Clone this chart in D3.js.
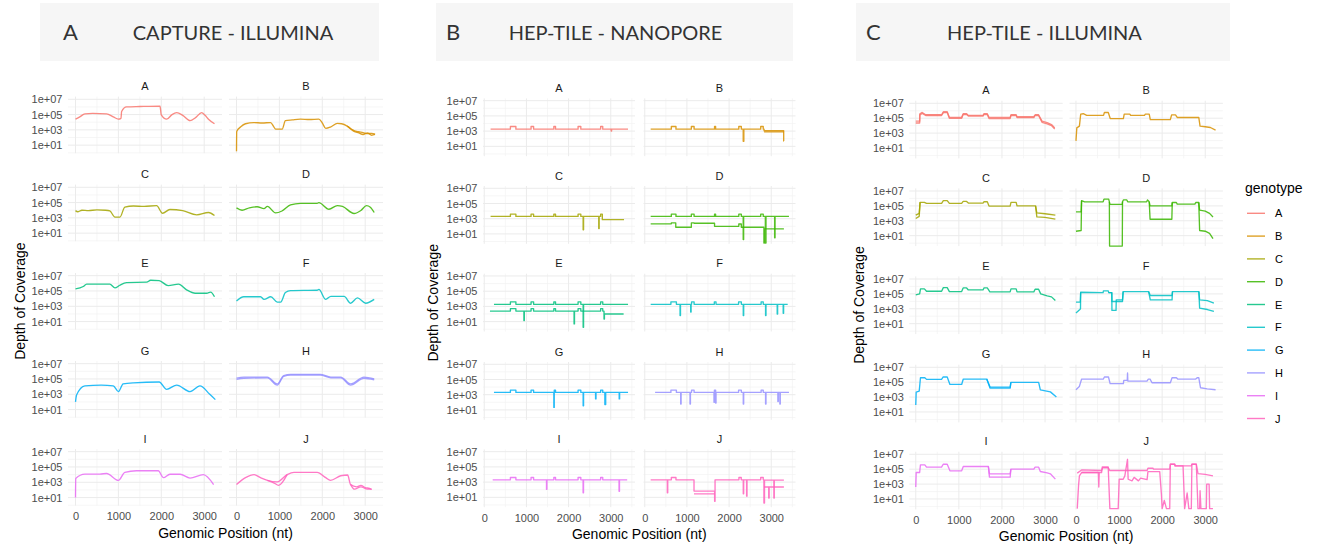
<!DOCTYPE html>
<html>
<head>
<meta charset="utf-8">
<title>Depth of Coverage by genotype</title>
<style>
  html, body { margin: 0; padding: 0; background: #fff; }
  svg text { font-family: "Liberation Sans", Arial, sans-serif; }
</style>
</head>
<body>
<svg id="svg" width="1317" height="548"></svg>
<script src="https://d3js.org/d3.v7.min.js"></script>
<script>
// facet / legend values
const genotypes = ["A", "B", "C", "D", "E", "F", "G", "H", "I", "J"]
const genotypeColors = ["#F8766D", "#D89000", "#A3A500", "#39B600", "#00BF7D",
                        "#00BFC4", "#00B0F6", "#9590FF", "#E76BF3", "#FF62BC"]
const panelLetters = ["A", "B", "C"]
const panelTitles = ["CAPTURE - ILLUMINA", "HEP-TILE - NANOPORE", "HEP-TILE - ILLUMINA"]
const yTickValues = [1e1, 1e3, 1e5, 1e7]
const yMinorValues = [1e0, 1e2, 1e4, 1e6]
const xTickValues = [0, 1000, 2000, 3000]
const xMinorValues = [500, 1500, 2500, 3500]

// each genotype: list of lines, each point = [genomic position (nt), log10 depth]
// A - capture / illumina
const captureA = [[[0,4.4],[100,4.7],[218,5.1],[400,5.15],[725,5.1],[880,4.7],[1000,4.4],[1060,4.5],[1075,5.4],[1190,6.0],[1500,6.05],[1970,6.1],[2000,4.95],[2125,4.4],[2250,5.0],[2360,5.25],[2500,4.9],[2670,4.2],[2800,4.6],[2940,5.25],[3020,4.9],[3100,4.4],[3240,3.8]]]
const captureB = [
  [[0,0.2],[5,2.8],[100,3.4],[210,3.8],[400,3.95],[600,3.9],[795,3.95],[870,3.4],[910,3.1],[1065,3.1],[1140,4.2],[1300,4.3],[1490,4.4],[1700,4.35],[1920,4.4],[2000,3.9],[2080,3.2],[2200,3.4],[2350,3.85],[2450,3.8],[2580,3.5],[2740,2.8],[2850,2.6],[2950,2.4],[3050,2.6],[3150,2.3],[3230,2.4]],
  [[2580,3.5],[2740,2.9],[2850,2.75],[2950,2.65],[3050,2.5],[3150,2.55],[3230,2.45]]
]
const captureC = [[[0,3.95],[50,3.8],[150,4.0],[300,3.95],[500,4.05],[700,4.0],[800,3.9],[920,3.1],[1035,3.1],[1150,4.4],[1350,4.55],[1600,4.5],[1890,4.6],[2030,3.6],[2200,4.1],[2500,3.95],[2825,3.4],[3100,3.7],[3240,3.3]]]
const captureD = [[[0,4.3],[130,4.0],[300,4.3],[480,4.45],[640,4.2],[720,4.5],[910,3.65],[1060,3.9],[1260,4.7],[1490,4.9],[1880,4.9],[1920,5.0],[2155,4.13],[2350,4.6],[2470,4.5],[2740,3.57],[2900,3.96],[3030,4.6],[3120,4.4],[3210,3.7]]]
const captureE = [[[0,5.27],[180,5.58],[260,5.9],[800,5.9],[920,5.4],[1030,5.75],[1190,6.1],[1660,6.15],[1750,6.4],[1950,6.35],[2160,5.7],[2400,5.9],[2590,5.15],[2790,4.7],[3060,4.7],[3150,4.85],[3240,4.25]]]
const captureF = [[[0,3.7],[170,4.25],[560,4.25],[640,3.9],[800,4.25],[950,3.55],[1030,3.55],[1140,4.8],[1260,5.05],[1880,5.1],[1920,5.2],[2080,3.9],[2200,4.3],[2510,4.3],[2660,3.4],[2820,4.1],[3010,3.4],[3210,3.9]]]
const captureG = [[[0,2.0],[25,2.9],[218,4.1],[600,4.2],[880,4.1],[1000,3.35],[1110,4.35],[1350,4.5],[1950,4.6],[2125,3.65],[2360,4.2],[2670,3.35],[2900,4.1],[3130,3.0],[3260,2.3]]]
const captureH = [
  [[0,5.1],[170,5.25],[720,5.25],[950,4.35],[1100,5.45],[1260,5.6],[1950,5.6],[2200,5.25],[2430,5.25],[2660,4.35],[2970,5.25],[3210,5.0]],
  [[0,4.95],[170,5.1],[720,5.15],[950,4.2],[1100,5.35],[1260,5.5],[1950,5.5],[2200,5.15],[2430,5.15],[2660,4.2],[2970,5.1],[3210,4.9]]
]
const captureI = [[[0,1.0],[5,3.5],[218,4.07],[570,4.07],[725,4.15],[1000,3.25],[1150,4.3],[1420,4.5],[1930,4.5],[2050,3.6],[2200,4.05],[2440,4.05],[2670,3.55],[2980,4.0],[3220,2.7]]]
const captureJ = [
  [[0,2.7],[210,3.6],[410,4.0],[560,3.6],[720,3.25],[950,3.05],[1180,4.0],[1340,4.3],[1880,4.3],[2080,3.6],[2190,3.25],[2430,3.85],[2590,3.95],[2660,2.7],[2800,2.4],[2900,2.6],[3000,2.3],[3100,2.2],[3150,2.05]],
  [[720,3.25],[880,2.9],[980,2.6],[1180,4.0]],
  [[2660,2.7],[2750,2.1],[2900,2.4],[3050,2.1],[3150,2.1]]
]

// B - hep-tile / nanopore (step profile: value holds until next position)
const nanoporeA = [[[150,3.26],[620,3.6],[750,3.26],[1110,3.6],[1170,3.26],[1650,3.6],[1690,3.26],[2225,3.6],[2290,3.26],[2760,3.6],[2810,3.26],[3010,3.0],[3020,3.26],[3410,3.26]]]
const nanoporeB = [
  [[140,3.26],[630,3.6],[740,3.26],[1105,3.6],[1170,3.26],[1655,3.6],[1680,3.26],[2230,3.6],[2290,3.26],[2335,1.65],[2350,3.26],[2750,3.6],[2810,3.26],[2830,3.05],[3295,1.7],[3300,1.7]],
  [[2830,2.9],[3300,2.9]]
]
const nanoporeC = [[[150,3.3],[620,3.6],[750,3.3],[1110,3.6],[1170,3.3],[1650,3.6],[1690,3.3],[2225,3.6],[2290,3.3],[2345,1.55],[2355,3.3],[2715,1.7],[2725,3.3],[2760,3.6],[2800,2.87],[3315,2.87]]]
const nanoporeD = [
  [[140,3.3],[630,3.6],[740,3.3],[1105,3.6],[1170,3.3],[1655,3.6],[1680,3.3],[2230,3.6],[2290,3.3],[2335,0.25],[2345,3.3],[2750,3.6],[2810,3.3],[2860,-0.2],[2875,3.3],[3080,0.5],[3090,3.3],[3420,3.3]],
  [[140,2.32],[630,2.45],[735,1.88],[1105,2.45],[1170,2.4],[1655,2.0],[2230,2.3],[2290,1.88],[2826,-0.2],[2836,1.66],[3300,1.66]]
]
const nanoporeE = [
  [[230,3.27],[620,3.6],[750,3.27],[1110,3.6],[1170,3.27],[1650,3.6],[1690,3.27],[2225,3.6],[2290,3.27],[2345,0.25],[2355,3.27],[2760,3.6],[2810,3.27],[3410,3.27]],
  [[135,2.38],[620,2.7],[750,2.38],[940,1.13],[950,2.38],[1110,2.7],[1170,2.38],[1650,2.7],[1690,2.38],[2130,0.7],[2140,2.38],[2225,2.7],[2290,2.38],[2760,2.7],[2810,2.38],[2840,1.35],[2850,2.0],[3305,2.0]]
]
const nanoporeF = [[[140,3.27],[620,3.6],[750,3.27],[837,1.8],[847,3.27],[1089,2.25],[1099,3.27],[1110,3.6],[1170,3.27],[1650,3.6],[1690,3.27],[2225,3.6],[2290,3.27],[2336,1.8],[2346,3.27],[2760,3.6],[2810,3.27],[2865,1.8],[2875,3.27],[3141,2.0],[3151,3.27],[3283,2.1],[3293,3.27],[3390,3.27]]]
const nanoporeG = [[[230,3.3],[620,3.6],[750,3.3],[1110,3.6],[1170,3.3],[1650,1.33],[1660,3.6],[1690,3.3],[2225,3.6],[2290,3.3],[2345,1.55],[2355,3.3],[2640,2.45],[2650,3.3],[2760,3.6],[2810,3.3],[2860,1.7],[2880,3.3],[3200,2.45],[3210,3.3],[3410,3.3]]]
const nanoporeH = [[[245,3.3],[620,3.6],[750,3.3],[852,1.78],[862,3.3],[1073,1.78],[1083,3.3],[1110,3.6],[1170,3.3],[1642,2.0],[1652,3.6],[1681,1.9],[1690,3.3],[2225,3.6],[2290,3.3],[2336,1.78],[2346,3.3],[2760,3.6],[2810,3.3],[2865,1.78],[2875,3.3],[3157,2.1],[3167,3.3],[3204,1.78],[3214,3.3],[3420,3.3]]]
const nanoporeI = [[[200,3.3],[620,3.6],[750,3.3],[1110,3.6],[1170,3.3],[1476,2.05],[1486,3.3],[1650,3.6],[1690,3.3],[2225,3.6],[2290,3.3],[2344,1.6],[2354,3.3],[2760,3.6],[2810,3.3],[3197,1.8],[3207,3.3],[3390,3.3]]]
const nanoporeJ = [
  [[140,3.3],[535,1.6],[545,3.3],[630,3.6],[740,3.3],[1168,1.82],[1657,0.47],[1667,3.3],[2233,3.6],[2288,3.3],[2336,1.46],[2346,3.3],[2415,1.15],[2425,3.3],[2750,3.6],[2810,3.3],[2826,0.25],[2840,3.26],[3062,0.9],[3072,3.26],[3300,3.26]],
  [[1168,1.46],[1657,1.46]],
  [[2830,2.36],[2940,0.9],[2950,2.36],[3300,2.36]]
]

// C - hep-tile / illumina
const tileA = [
  [[0,4.6],[90,4.6],[95,5.6],[150,5.77],[230,5.46],[600,5.46],[640,5.86],[730,5.86],[780,5.11],[1065,5.11],[1100,5.6],[1180,5.6],[1220,5.38],[1560,5.38],[1585,5.6],[1660,5.6],[1700,5.11],[2190,5.11],[2210,5.46],[2330,5.46],[2350,5.2],[2740,5.2],[2770,5.46],[2850,5.46],[2930,4.6],[3050,4.4],[3150,4.15],[3225,3.7]],
  [[0,4.35],[90,4.35],[95,5.45],[150,5.65],[230,5.36],[600,5.36],[640,5.75],[730,5.75],[780,4.98],[1065,4.98],[1100,5.5],[1180,5.5],[1220,5.28],[1560,5.28],[1585,5.5],[1660,5.5],[1700,4.95],[2190,4.95],[2210,5.36],[2330,5.36],[2350,5.08],[2740,5.08],[2770,5.36],[2850,5.36],[2930,4.45],[3050,4.25],[3150,4.0],[3225,3.55]]
]
const tileB = [[[0,1.95],[20,3.7],[80,3.93],[110,5.55],[170,5.6],[250,5.38],[640,5.38],[660,5.77],[750,5.77],[795,4.95],[1100,4.95],[1120,5.55],[1250,5.55],[1270,5.38],[1590,5.38],[1610,5.55],[1700,5.55],[1725,4.8],[2190,4.8],[2220,5.45],[2310,5.45],[2350,5.1],[2850,5.1],[2880,3.93],[3000,3.85],[3120,3.75],[3240,3.4]]]
const tileC = [
  [[0,3.75],[80,4.0],[100,5.47],[200,5.47],[250,5.33],[600,5.33],[640,5.7],[730,5.7],[780,5.33],[1065,5.33],[1100,5.6],[1180,5.6],[1220,5.38],[1560,5.38],[1585,5.56],[1660,5.56],[1700,4.97],[2190,4.97],[2210,5.47],[2330,5.47],[2350,5.0],[2780,5.0],[2810,4.07],[3000,3.95],[3240,3.76]],
  [[0,3.3],[80,3.6],[100,5.47]],
  [[2780,5.0],[2810,3.53],[3000,3.45],[3240,3.22]]
]
const tileD = [
  [[0,4.2],[120,4.2],[130,5.7],[200,5.55],[630,5.55],[650,5.9],[760,5.9],[775,5.55],[780,-0.4],[1075,-0.4],[1080,5.55],[1100,5.8],[1180,5.8],[1200,5.55],[1640,5.55],[1660,5.8],[1700,5.55],[1720,3.2],[2225,3.2],[2235,5.45],[2330,5.45],[2350,5.24],[2760,5.24],[2780,5.45],[2850,5.45],[2870,4.43],[3000,4.3],[3100,4.0],[3180,3.5]],
  [[0,1.6],[120,1.7],[130,5.7]],
  [[775,5.55],[790,5.2],[1075,5.2],[1080,5.55]],
  [[1700,5.55],[1720,5.0],[2225,5.0],[2235,5.45]],
  [[2850,5.45],[2870,1.7],[3000,1.6],[3100,1.3],[3180,0.6]]
]
const tileE = [[[0,4.87],[90,5.0],[110,5.67],[200,5.67],[250,5.36],[600,5.36],[640,5.84],[730,5.84],[780,5.31],[1065,5.31],[1100,5.8],[1180,5.8],[1220,5.53],[1560,5.53],[1585,5.8],[1660,5.8],[1720,5.27],[2190,5.27],[2210,5.67],[2330,5.67],[2350,5.27],[2740,5.27],[2770,5.62],[2850,5.62],[2900,5.0],[3050,4.73],[3150,4.6],[3240,4.1]]]
const tileF = [
  [[0,3.89],[100,3.9],[109,5.22],[630,5.18],[637,5.4],[750,5.4],[760,5.18],[831,5.18],[835,3.98],[1080,3.98],[1095,5.31],[1686,5.31],[1725,4.78],[2230,4.78],[2240,5.31],[2852,5.31],[2870,4.2],[3050,4.1],[3201,3.76]],
  [[0,2.42],[90,2.9],[105,3.0],[109,5.22]],
  [[760,5.18],[831,5.18],[835,2.78],[930,2.78],[935,4.2],[1080,4.2],[1095,5.31]],
  [[1686,5.31],[1725,4.2],[2230,4.2],[2240,5.31]],
  [[2852,5.31],[2870,3.09],[3050,2.9],[3201,2.64]]
]
const tileG = [
  [[0,1.95],[10,3.67],[80,3.8],[109,5.6],[210,5.6],[250,5.38],[598,5.38],[637,5.7],[730,5.7],[793,4.7],[1065,4.7],[1103,5.42],[1647,5.42],[1725,4.34],[2191,4.34],[2207,4.97],[2852,4.97],[2891,3.98],[3124,3.7],[3264,3.0]],
  [[1647,5.42],[1725,4.2],[2191,4.2],[2207,4.97]]
]
const tileH = [[[0,3.98],[78,4.43],[132,5.42],[637,5.42],[660,5.7],[754,5.7],[793,4.8],[1100,4.8],[1110,5.24],[1190,5.24],[1197,6.23],[1204,5.15],[1647,5.15],[1680,5.42],[1720,5.42],[1764,4.93],[2191,4.93],[2230,5.6],[2331,5.6],[2360,5.42],[2780,5.42],[2813,5.6],[2850,5.6],[2891,4.25],[3046,4.1],[3240,3.98]]]
const tileI = [
  [[0,2.6],[10,4.56],[90,4.56],[109,5.58],[210,5.58],[250,5.27],[598,5.27],[637,5.67],[730,5.67],[793,4.78],[1065,4.78],[1103,5.36],[1685,5.36],[1710,4.38],[2191,4.38],[2207,5.0],[2740,5.0],[2770,5.27],[2852,5.27],[2891,4.69],[3050,4.5],[3124,4.38],[3240,3.67]],
  [[1685,5.36],[1710,3.93],[2191,3.93],[2207,5.0]]
]
const tileJ = [
  [[30,4.47],[131,4.9],[594,4.82],[620,5.2],[748,5.2],[787,4.82],[1651,4.82],[1670,5.13],[1790,5.13],[1800,5.0],[2176,5.0],[2190,5.67],[2292,5.67],[2300,5.45],[2677,5.45],[2690,5.67],[2793,5.67],[2832,4.41],[3000,4.3],[3179,4.1]],
  [[30,-0.3],[60,2.8],[80,4.1],[131,4.55],[594,4.55],[610,5.3],[748,5.3],[787,-0.3],[980,-0.3],[1003,3.65],[1096,3.65],[1134,4.1],[1196,6.33],[1211,3.65],[1300,3.43],[1350,3.9],[1450,3.43],[1500,3.8],[1651,3.6],[1670,4.68],[1944,4.68],[1983,1.65],[2000,-0.3],[2050,0.8],[2100,-0.3],[2176,-0.3],[2190,5.67],[2292,5.67],[2300,5.45],[2485,5.45],[2523,-0.3],[2580,1.8],[2620,-0.3],[2677,-0.3],[2690,5.67],[2793,5.67],[2832,-0.3],[2870,-0.3],[2880,2.1],[2900,-0.3],[3025,-0.3],[3035,3.0],[3090,3.0],[3102,-0.3],[3179,-0.3]],
  [[131,4.55],[520,4.55],[530,2.6],[540,4.55]]
]

const captureData = [captureA, captureB, captureC, captureD, captureE, captureF, captureG, captureH, captureI, captureJ]
const nanoporeData = [nanoporeA, nanoporeB, nanoporeC, nanoporeD, nanoporeE, nanoporeF, nanoporeG, nanoporeH, nanoporeI, nanoporeJ]
const tileData = [tileA, tileB, tileC, tileD, tileE, tileF, tileG, tileH, tileI, tileJ]

// layout of the three panels
const panels = [
  {data: captureData, box: [40, 3, 339, 58], letterX: 63, titleX: 233, cols: [68, 229], w: 154,
   tops: [96.6, 184.6, 273, 361, 449], h: 56.6, yDom: [-0.05, 7.35], xDom: [-175, 3415], yTitleX: 20, curve: d3.curveMonotoneX},
  {data: nanoporeData, box: [436, 3, 357, 58], letterX: 446, titleX: 615.5, cols: [483, 643.5], w: 152,
   tops: [98.4, 186, 273.7, 362, 449.4], h: 57.8, yDom: [-0.3, 7.3], xDom: [-30, 3575], yTitleX: 433, curve: d3.curveStepAfter},
  {data: tileData, box: [856, 3, 374, 58], letterX: 866, titleX: 1044.5, cols: [909.3, 1069.5], w: 153.4,
   tops: [100.7, 188.4, 276.4, 364.7, 451.7], h: 57.7, yDom: [-0.4, 7.35], xDom: [-150, 3410], yTitleX: 859, curve: d3.curveLinear}
]

const svg = d3.select('#svg')
const defs = svg.append('defs')
const fmtExp = d => {
  const e = Math.round(Math.log10(d))
  return '1e' + (e < 0 ? '-' : '+') + String(Math.abs(e)).padStart(2, '0')
}

panels.forEach((p, pi) => {
  // header box
  svg.append('rect')
    .attr('x', p.box[0]).attr('y', p.box[1])
    .attr('width', p.box[2]).attr('height', p.box[3])
    .attr('fill', '#f6f6f6')
  svg.append('text')
    .attr('x', p.letterX).attr('y', 40)
    .style('font-family', 'Lato, "Open Sans", sans-serif')
    .attr('font-size', 22).attr('fill', '#333')
    .text(panelLetters[pi])
  svg.append('text')
    .attr('x', p.titleX).attr('y', 40)
    .attr('text-anchor', 'middle')
    .style('font-family', 'Lato, "Open Sans", sans-serif')
    .attr('font-size', 20).attr('fill', '#333')
    .text(panelTitles[pi])

  const x = d3.scaleLinear().domain(p.xDom).range([0, p.w])
  const y = d3.scaleLog().domain([Math.pow(10, p.yDom[0]), Math.pow(10, p.yDom[1])]).range([p.h, 0])
  const linegen = d3.line()
    .x(d => x(d[0]))
    .y(d => y(Math.pow(10, d[1])))
    .curve(p.curve)

  p.data.forEach((lines, k) => {
    const col = k % 2
    const row = Math.floor(k / 2)
    const g = svg.append('g')
      .attr('transform', `translate(${p.cols[col]},${p.tops[row]})`)

    // grid
    g.selectAll('.ymin').data(yMinorValues).join('line')
      .attr('x1', 0).attr('x2', p.w)
      .attr('y1', d => y(d)).attr('y2', d => y(d))
      .attr('stroke', '#f2f2f2').attr('stroke-width', 0.7)
    g.selectAll('.xmin').data(xMinorValues.filter(v => v < p.xDom[1])).join('line')
      .attr('x1', d => x(d)).attr('x2', d => x(d))
      .attr('y1', 0).attr('y2', p.h)
      .attr('stroke', '#f2f2f2').attr('stroke-width', 0.7)
    g.selectAll('.ymaj').data(yTickValues).join('line')
      .attr('x1', 0).attr('x2', p.w)
      .attr('y1', d => y(d)).attr('y2', d => y(d))
      .attr('stroke', '#ebebeb').attr('stroke-width', 1)
    g.selectAll('.xmaj').data(xTickValues).join('line')
      .attr('x1', d => x(d)).attr('x2', d => x(d))
      .attr('y1', 0).attr('y2', p.h)
      .attr('stroke', '#ebebeb').attr('stroke-width', 1)

    // strip label
    g.append('text')
      .attr('x', p.w / 2).attr('y', -6.5)
      .attr('text-anchor', 'middle')
      .attr('font-size', 11).attr('fill', '#1a1a1a')
      .text(genotypes[k])

    // y axis labels (left column only)
    if (col === 0) {
      const ya = g.append('g').call(d3.axisLeft(y).tickValues(yTickValues).tickFormat(fmtExp).tickSize(0).tickPadding(5.5))
      ya.select('.domain').remove()
      ya.selectAll('text').attr('font-size', 11).attr('fill', '#4d4d4d')
        .style('font-family', '"Liberation Sans", Arial, sans-serif')
    }
    // x axis labels (bottom row only)
    if (row === 4) {
      const xa = g.append('g').attr('transform', `translate(0,${p.h})`)
        .call(d3.axisBottom(x).tickValues(xTickValues).tickFormat(d3.format('d')).tickSize(0).tickPadding(7))
      xa.select('.domain').remove()
      xa.selectAll('text').attr('font-size', 11).attr('fill', '#4d4d4d')
        .style('font-family', '"Liberation Sans", Arial, sans-serif')
    }

    const clipId = `clip-${pi}-${k}`
    defs.append('clipPath').attr('id', clipId)
      .append('rect').attr('x', 0).attr('y', -1).attr('width', p.w).attr('height', p.h + 2)

    g.append('g').attr('clip-path', `url(#${clipId})`)
      .selectAll('path').data(lines).join('path')
      .attr('d', d => linegen(d))
      .attr('fill', 'none')
      .attr('stroke', genotypeColors[k])
      .attr('stroke-width', 1.35)
      .attr('stroke-opacity', 0.85)
      .attr('stroke-linejoin', 'round')
  })

  const left = p.cols[0]
  const right = p.cols[1] + p.w
  const bottom = p.tops[4] + p.h
  svg.append('text')
    .attr('x', (left + right) / 2).attr('y', bottom + 32)
    .attr('text-anchor', 'middle')
    .attr('font-size', 14).attr('fill', '#000')
    .text('Genomic Position (nt)')
  svg.append('text')
    .attr('transform', `translate(${p.yTitleX + 5},${(p.tops[0] + bottom) / 2}) rotate(-90)`)
    .attr('text-anchor', 'middle')
    .attr('font-size', 14).attr('fill', '#000')
    .text('Depth of Coverage')
})

// legend
const legend = svg.append('g')
legend.append('text')
  .attr('x', 1245).attr('y', 193)
  .attr('font-size', 14).attr('fill', '#000')
  .text('genotype')
const items = legend.selectAll('.item').data(genotypes).join('g')
  .attr('transform', (d, i) => `translate(0,${213.3 + i * 22.8})`)
items.append('line')
  .attr('x1', 1247).attr('x2', 1265)
  .attr('stroke', (d, i) => genotypeColors[i])
  .attr('stroke-width', 1.4).attr('stroke-opacity', 0.85)
items.append('text')
  .attr('x', 1275).attr('y', 4)
  .attr('font-size', 11).attr('fill', '#000')
  .text(d => d)
</script>
</body>
</html>
